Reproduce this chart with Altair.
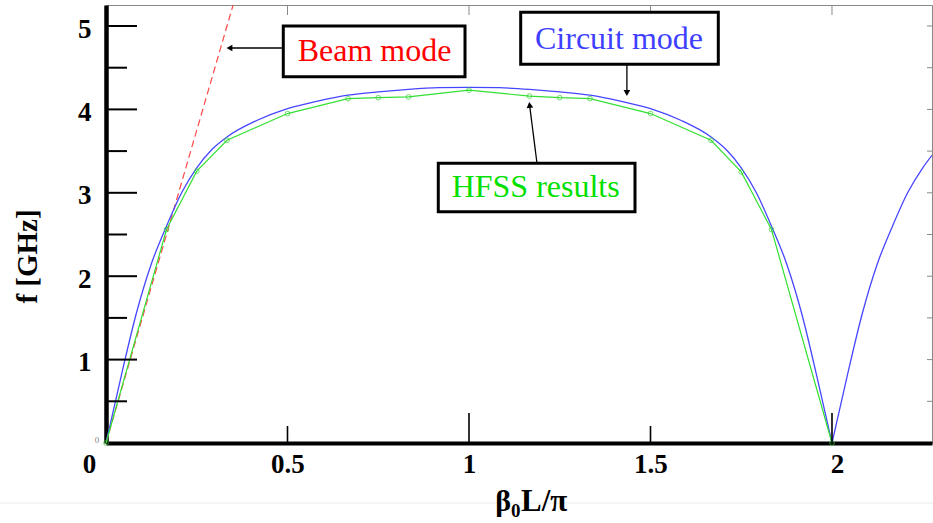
import altair as alt
import pandas as pd

# ---------------- data ----------------
# Circuit mode (blue), first branch 0..2
circ_x = [0, 0.0417, 0.0833, 0.125, 0.1667, 0.2083, 0.25, 0.2917, 0.3333, 0.4167, 0.5,
          0.5833, 0.6667, 0.75, 0.8333, 0.9167, 1.0, 1.0833, 1.1667, 1.25, 1.3333,
          1.4167, 1.5, 1.5833, 1.6667, 1.7083, 1.75, 1.7917, 1.8333, 1.875, 1.9167, 1.9583, 2.0]
circ_f = [0, 0.80, 1.55, 2.15, 2.60, 3.00, 3.30, 3.52, 3.67, 3.87, 4.01,
          4.10, 4.17, 4.21, 4.24, 4.26, 4.265, 4.26, 4.24, 4.21, 4.17,
          4.10, 4.01, 3.87, 3.67, 3.52, 3.30, 3.00, 2.60, 2.15, 1.55, 0.80, 0]
# Circuit mode second branch beyond 2
circ2_x = [2.0, 2.0417, 2.0833, 2.125, 2.1667, 2.2083, 2.25, 2.2755]
circ2_f = [0, 0.80, 1.55, 2.15, 2.60, 3.00, 3.30, 3.45]

# HFSS results (green)
hfss_x = [0, 0.1667, 0.25, 0.3333, 0.5, 0.6667, 0.75, 0.8333, 1.0,
          1.1667, 1.25, 1.3333, 1.5, 1.6667, 1.75, 1.8333, 2.0]
hfss_f = [0, 2.56, 3.26, 3.63, 3.95, 4.13, 4.14, 4.15, 4.23,
          4.16, 4.14, 4.13, 3.95, 3.63, 3.25, 2.56, 0]

# Beam mode (red dashed)
beam_x = [0, 0.36]
beam_f = [0, 5.4]

# axes
x_labels = [0, 0.5, 1, 1.5, 2]
y_labels = [1, 2, 3, 4, 5]
y_major = [1, 2, 3, 4, 5]
y_minor = [0.5, 1.5, 2.5, 3.5, 4.5]
x_major = [1, 2]
x_minor = [0.5, 1.5]
top_ticks = [0.5, 1, 1.5, 2]
right_ticks = [0.5, 1, 1.5, 2, 2.5, 3, 3.5, 4, 4.5, 5]

# annotations
ann_text = ["Beam mode", "Circuit mode", "HFSS results"]
ann_color = ["#ff0000", "#3f3fff", "#00e000"]
ann_tx = [0.7397, 1.4132, 1.1837]
ann_ty = [4.697, 4.850, 3.064]
box_x1 = [0.4884, 1.1424, 0.9154]
box_x2 = [0.9890, 1.6868, 1.4573]
box_y1 = [4.392, 4.541, 2.774]
box_y2 = [5.000, 5.164, 3.354]
arr_x1 = [0.4884, 1.4350, 1.1873]
arr_y1 = [4.736, 4.541, 3.354]
arr_x2 = [0.3402, 1.4350, 1.1669]
arr_y2 = [4.736, 4.197, 4.053]
head_shape = ["triangle-left", "triangle-down", "triangle-up"]
head_angle = [0, 0, 352.6]

# x-axis title pieces: beta, subscript 0, rest
xt_text = ["β", "0", "L/π"]
xt_size = [30, 19, 31]

# ---------------- chart ----------------
W, H = 826, 438
XD = [0, 2.2755]
YD = [0, 5.2518]
FONT = "Liberation Serif"

xs = alt.Scale(domain=XD, nice=False, zero=False)
ys = alt.Scale(domain=YD, nice=False, zero=False)

x_axis = alt.Axis(
    values=x_labels, format="~g", ticks=False, tickSize=0, grid=False,
    domainColor="black", domainWidth=4,
    labelFont=FONT, labelFontWeight="bold", labelFontSize=27, labelColor="black",
    labelPadding=8, labelBaseline="top", labelFlush=False,
    labelOffset={"expr": "datum.value == 0 ? -17 : (datum.value == 2 ? 5 : 0)"},
    title=None,
)
y_axis = alt.Axis(
    values=y_labels, ticks=False, tickSize=0, grid=False,
    domainColor="black", domainWidth=4.5,
    labelFont=FONT, labelFontWeight="bold", labelFontSize=27, labelColor="black",
    labelPadding=15, labelOffset=3, labelFlush=False,
    title="f [GHz]", titleFont=FONT, titleFontWeight="bold", titleFontSize=29,
    titleColor="black", titleAngle=270, titleX=-79, titleY=251,
    titleAlign="center", titleBaseline="middle",
)


def X(field):
    return alt.X(field, type="quantitative", scale=xs, axis=x_axis)


def Y(field):
    return alt.Y(field, type="quantitative", scale=ys, axis=y_axis)


circ_df = pd.DataFrame({"x": circ_x + circ2_x, "f": circ_f + circ2_f,
                        "b": ["a"] * len(circ_x) + ["b"] * len(circ2_x)})
hfss_df = pd.DataFrame({"x": hfss_x, "f": hfss_f})
beam_df = pd.DataFrame({"x": beam_x, "f": beam_f})

sep = alt.Chart(pd.DataFrame({"a": [0]})).mark_rule(color="#ececec", strokeWidth=1).encode(
    x=alt.value(-106), x2=alt.value(W + 1), y=alt.value(498))

beam = alt.Chart(beam_df).mark_line(color="#ff4848", strokeWidth=1.2, strokeDash=[7, 4], clip=True).encode(
    x=X("x"), y=Y("f"))

circ = alt.Chart(circ_df).mark_line(color="#4646ff", strokeWidth=1.3, interpolate="monotone", clip=True).encode(
    x=X("x"), y=Y("f"), detail="b:N")

hfss_line = alt.Chart(hfss_df).mark_line(color="#33e033", strokeWidth=1.2).encode(x=X("x"), y=Y("f"))
hfss_pts = alt.Chart(hfss_df).mark_point(shape="circle", filled=False, color="#33d033", size=22, strokeWidth=1).encode(
    x=X("x"), y=Y("f"))


def ticks_v(vals, length, color="black", width=2):
    # horizontal tick rules on the left axis, pointing inward
    return alt.Chart(pd.DataFrame({"v": vals})).mark_rule(color=color, strokeWidth=width).encode(
        y=Y("v"), x=alt.value(0), x2=alt.value(length))


def ticks_h(vals, length, color="black", width=1.6):
    # vertical tick rules on the bottom axis, pointing up
    return alt.Chart(pd.DataFrame({"v": vals})).mark_rule(color=color, strokeWidth=width).encode(
        x=X("v"), y=alt.value(H), y2=alt.value(H - length))


ty1 = ticks_v(y_major, 31)
ty2 = ticks_v(y_minor, 21)
tx1 = ticks_h(x_major, 30)
tx2 = ticks_h(x_minor, 17)
ttop = alt.Chart(pd.DataFrame({"v": top_ticks})).mark_rule(color="#888888", strokeWidth=1).encode(
    x=X("v"), y=alt.value(0), y2=alt.value(10))
tright = alt.Chart(pd.DataFrame({"v": right_ticks})).mark_rule(color="#888888", strokeWidth=1).encode(
    y=Y("v"), x=alt.value(W), x2=alt.value(W - 5))

ann_df = pd.DataFrame({
    "text": ann_text, "color": ann_color, "tx": ann_tx, "ty": ann_ty,
    "bx1": box_x1, "bx2": box_x2, "by1": box_y1, "by2": box_y2,
    "ax1": arr_x1, "ay1": arr_y1, "ax2": arr_x2, "ay2": arr_y2,
    "shape": head_shape, "angle": head_angle,
})

arrows = alt.Chart(ann_df).mark_rule(color="black", strokeWidth=1.3).encode(
    x=X("ax1"), y=Y("ay1"), x2="ax2", y2="ay2")
heads = alt.Chart(ann_df).mark_point(filled=True, color="black", size=45, opacity=1).encode(
    x=X("ax2"), y=Y("ay2"),
    shape=alt.Shape("shape:N", scale=None, legend=None),
    angle=alt.Angle("angle:Q", scale=None))
boxes = alt.Chart(ann_df).mark_rect(fill="white", stroke="black", strokeWidth=3).encode(
    x=X("bx1"), x2="bx2", y=Y("by1"), y2="by2")
texts = alt.Chart(ann_df).mark_text(font=FONT, fontSize=32, align="center", baseline="middle").encode(
    x=X("tx"), y=Y("ty"), text="text:N", color=alt.Color("color:N", scale=None, legend=None))

tiny0 = alt.Chart(pd.DataFrame({"x": [-0.025], "f": [0.03], "t": ["0"]})).mark_text(
    font=FONT, fontSize=9, color="#888888", align="center", baseline="middle").encode(
    x=X("x"), y=Y("f"), text="t:N")

# x-axis title drawn as three text pieces (beta, subscript zero, L/pi)
xt_beta = alt.Chart(pd.DataFrame({"t": [xt_text[0]]})).mark_text(
    font=FONT, fontWeight="bold", fontSize=xt_size[0], color="black", align="right", baseline="alphabetic").encode(
    x=alt.value(405), y=alt.value(506), text="t:N")
xt_sub = alt.Chart(pd.DataFrame({"t": [xt_text[1]]})).mark_text(
    font=FONT, fontWeight="bold", fontSize=xt_size[1], color="black", align="left", baseline="alphabetic").encode(
    x=alt.value(405), y=alt.value(512), text="t:N")
xt_rest = alt.Chart(pd.DataFrame({"t": [xt_text[2]]})).mark_text(
    font=FONT, fontWeight="bold", fontSize=xt_size[2], color="black", align="left", baseline="alphabetic").encode(
    x=alt.value(415), y=alt.value(506), text="t:N")

chart = alt.layer(
    sep, beam, circ, hfss_line, hfss_pts,
    ty1, ty2, tx1, tx2, ttop, tright,
    arrows, heads, boxes, texts, tiny0, xt_beta, xt_sub, xt_rest,
).properties(
    width=W, height=H,
    autosize=alt.AutoSizeParams(type="none"),
    padding={"left": 106, "top": 5, "right": 1, "bottom": 80},
    background="white",
).configure_view(stroke="#888888", strokeWidth=1)

chart.save("out.html", embed_options={"renderer": "svg", "actions": False})
